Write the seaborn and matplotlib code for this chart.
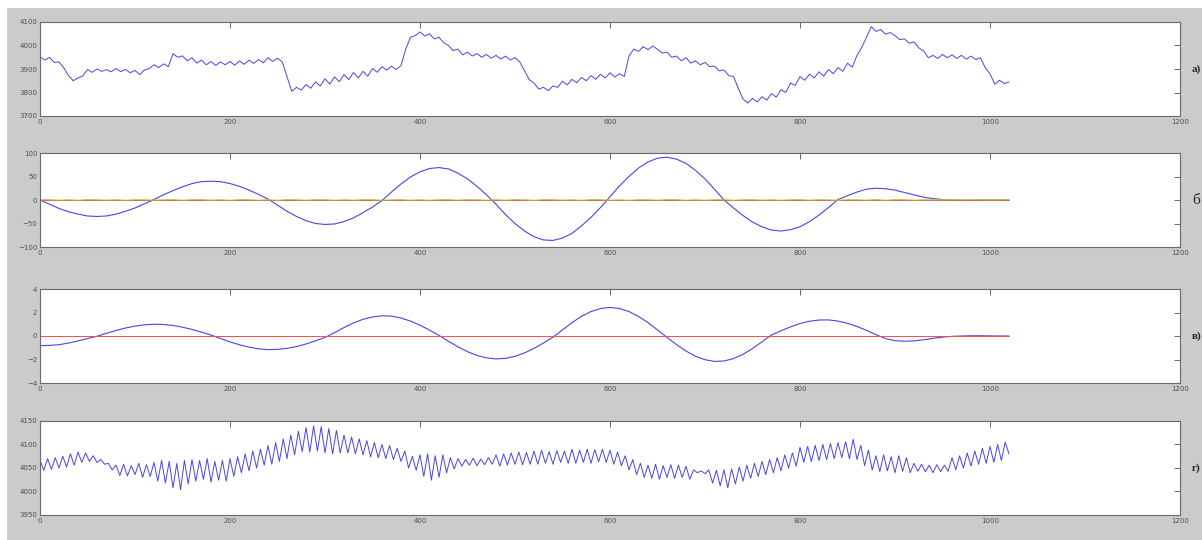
import numpy as np
import matplotlib
matplotlib.use("Agg")
import matplotlib.pyplot as plt
import seaborn as sns
from matplotlib.patches import Rectangle

sns.set_style("white")

# панель а) - исходный сигнал, шаг 5 отсчётов
step_a = 5
sig_a = [3952, 3938, 3949, 3928, 3930, 3905, 3872, 3850, 3862, 3870,
         3898, 3886, 3900, 3890, 3897, 3888, 3902, 3889, 3898, 3884,
         3894, 3876, 3896, 3902, 3918, 3906, 3922, 3910, 3965, 3950,
         3956, 3935, 3948, 3925, 3938, 3918, 3932, 3915, 3930, 3918,
         3932, 3916, 3934, 3920, 3938, 3924, 3940, 3926, 3948, 3932,
         3946, 3930, 3868, 3805, 3822, 3810, 3834, 3818, 3845, 3828,
         3858, 3836, 3866, 3846, 3876, 3855, 3885, 3862, 3890, 3870,
         3902, 3886, 3910, 3895, 3912, 3898, 3915, 3985, 4035, 4042,
         4058, 4040, 4050, 4028, 4035, 4012, 4000, 3978, 3985, 3960,
         3972, 3955, 3966, 3950, 3962, 3946, 3958, 3942, 3955, 3938,
         3948, 3930, 3892, 3855, 3840, 3815, 3822, 3808, 3828, 3822,
         3848, 3832, 3856, 3842, 3864, 3850, 3872, 3856, 3878, 3862,
         3884, 3866, 3880, 3868, 3955, 3985, 3975, 3995, 3982, 3998,
         3984, 3968, 3972, 3950, 3955, 3935, 3948, 3925, 3935, 3918,
         3928, 3910, 3912, 3892, 3896, 3872, 3868, 3818, 3772, 3755,
         3775, 3760, 3782, 3768, 3795, 3780, 3812, 3800, 3840, 3830,
         3868, 3852, 3878, 3862, 3888, 3870, 3898, 3880, 3906, 3890,
         3925, 3908, 3958, 3992, 4035, 4080, 4060, 4068, 4048, 4055,
         4042, 4025, 4028, 4010, 4015, 3990, 3978, 3948, 3958, 3945,
         3962, 3948, 3960, 3945, 3958, 3942, 3955, 3940, 3948, 3905,
         3880, 3835, 3852, 3838, 3845]

# панель г), шаг 4 отсчёта
step_d = 4
sig_d = [4067, 4045, 4070, 4047, 4072, 4050, 4075, 4052, 4080, 4056,
         4084, 4062, 4082, 4064, 4076, 4062, 4068, 4058, 4060, 4046,
         4056, 4034, 4058, 4033, 4055, 4036, 4060, 4030, 4057, 4032,
         4062, 4022, 4066, 4018, 4064, 4008, 4060, 4004, 4066, 4016,
         4068, 4022, 4066, 4026, 4070, 4020, 4064, 4024, 4066, 4022,
         4070, 4032, 4074, 4040, 4080, 4044, 4086, 4050, 4090, 4056,
         4098, 4058, 4104, 4064, 4112, 4070, 4120, 4078, 4128, 4085,
         4136, 4084, 4140, 4086, 4138, 4082, 4134, 4080, 4130, 4082,
         4120, 4082, 4116, 4080, 4112, 4078, 4108, 4074, 4104, 4072,
         4100, 4070, 4098, 4068, 4092, 4064, 4086, 4050, 4075, 4045,
         4078, 4032, 4080, 4024, 4076, 4030, 4078, 4040, 4072, 4048,
         4070, 4054, 4068, 4056, 4071, 4055, 4069, 4057, 4072, 4058,
         4078, 4054, 4080, 4056, 4082, 4058, 4084, 4057, 4083, 4058,
         4086, 4058, 4088, 4060, 4085, 4058, 4087, 4062, 4086, 4060,
         4090, 4060, 4088, 4062, 4090, 4060, 4089, 4063, 4090, 4062,
         4088, 4058, 4084, 4055, 4076, 4046, 4068, 4036, 4060, 4030,
         4056, 4028, 4058, 4026, 4055, 4030, 4057, 4028, 4056, 4030,
         4054, 4026, 4046, 4040, 4044, 4038, 4046, 4018, 4045, 4012,
         4046, 4008, 4048, 4016, 4052, 4022, 4056, 4028, 4060, 4032,
         4064, 4036, 4068, 4040, 4072, 4044, 4078, 4050, 4082, 4054,
         4094, 4062, 4096, 4064, 4098, 4066, 4100, 4068, 4102, 4070,
         4104, 4072, 4106, 4070, 4111, 4068, 4098, 4055, 4088, 4046,
         4076, 4042, 4078, 4044, 4074, 4040, 4076, 4043, 4072, 4040,
         4060, 4043, 4058, 4042, 4056, 4040, 4057, 4042, 4056, 4043,
         4072, 4046, 4076, 4050, 4082, 4054, 4086, 4058, 4092, 4060,
         4096, 4062, 4100, 4066, 4105, 4080]

# панель б), шаг 10
step_bc = 10
imf_b = [0, -9, -18, -25, -30, -34, -35, -34, -30, -24, -17, -8,
         1, 11, 20, 28, 35, 39, 40, 39, 35, 29, 21, 12, 2,
         -11, -24, -35, -44, -50, -52, -51, -46, -38, -27, -15, -1,
         17, 34, 49, 60, 67, 69, 66, 57, 45, 29, 11,
         -9, -31, -50, -66, -78, -85, -86, -81, -71, -55, -37, -16,
         7, 30, 50, 68, 81, 89, 91, 87, 78, 63, 45, 23, 0,
         -17, -33, -47, -57, -64, -66, -63, -57, -46, -32, -16,
         1, 9, 17, 23, 25, 24, 21, 16, 11, 6, 3, 1, 0, -1, -1, 0, 0, 0, 0]
red_b = [0] * 103
green_b = [0.6, 0.8, -0.4, 0.7, -0.5, 0.9, 0.6, -0.3, 0.8, -0.6, 0.7, 0.5,
           -0.4, 0.6, 0.8, -0.5, 0.7, 0.9, -0.3, 0.6, -0.5, 0.8, 0.7, -0.4,
           0.6, -0.6, 0.9, 0.5, -0.4, 0.7, 0.8, -0.5, 0.6, -0.3, 0.9, 0.7,
           -0.6, 0.5, 0.8, -0.4, 0.7, -0.5, 0.6, 0.9, -0.3, 0.8, 0.6, -0.5,
           0.7, -0.4, 0.9, 0.5, -0.6, 0.8, 0.7, -0.3, 0.6, -0.5, 0.9, 0.8,
           -0.4, 0.6, -0.6, 0.7, 0.5, -0.3, 0.9, 0.8, -0.5, 0.6, -0.4, 0.7,
           0.9, -0.6, 0.5, 0.8, -0.3, 0.7, -0.5, 0.6, 0.9, -0.4, 0.8, 0.5,
           -0.6, 0.7, 0.6, -0.3, 0.9, -0.5, 0.8, 0.7, -0.4, 0.6, 0.5, 0.8,
           0.7, 0.6, 0.8, 0.7, 0.6, 0.7, 0.8]

# панель в)
imf_c = [-0.82, -0.80, -0.74, -0.60, -0.42, -0.22, -0.02,
         0.23, 0.47, 0.68, 0.84, 0.95, 1.0, 0.98, 0.90, 0.75, 0.56, 0.33, 0.08,
         -0.21, -0.50, -0.75, -0.95, -1.09, -1.16, -1.14, -1.05, -0.90, -0.68, -0.41, -0.12,
         0.28, 0.72, 1.11, 1.42, 1.62, 1.72, 1.69, 1.53, 1.27, 0.92, 0.50, 0.05,
         -0.45, -0.92, -1.33, -1.66, -1.86, -1.95, -1.90, -1.73, -1.44, -1.05, -0.60, -0.10,
         0.52, 1.14, 1.67, 2.08, 2.34, 2.43, 2.34, 2.08, 1.67, 1.14, 0.52,
         -0.12, -0.73, -1.28, -1.72, -2.02, -2.16, -2.13, -1.92, -1.56, -1.07, -0.49,
         0.08, 0.44, 0.78, 1.06, 1.26, 1.36, 1.37, 1.27, 1.08, 0.81, 0.48, 0.11,
         -0.22, -0.40, -0.45, -0.42, -0.32, -0.20, -0.10, -0.03,
         0.0, 0.02, 0.02, 0.01, 0.0, 0.0]
red_c = [0] * 103

x_a = np.arange(len(sig_a)) * step_a
x_d = np.arange(len(sig_d)) * step_d
x_bc = np.arange(len(imf_b)) * step_bc

blue = "#4646e6"
red = "#f05050"
green = "#a8c83c"

fig = plt.figure(figsize=(12.02, 5.4), dpi=100, facecolor="white")
fig.patches.append(Rectangle((7 / 1202, 0), 1, 1 - 8 / 540, transform=fig.transFigure,
                             facecolor="#cbcbcb", edgecolor="none", zorder=-10))

W, H = 1202, 540
tops = [22, 153, 289, 421]
hgt = 94
ylims = [(3700, 4100), (-100, 100), (-4, 4), (3950, 4150)]
yticks = [np.arange(3700, 4101, 100), np.arange(-100, 101, 50),
          np.arange(-4, 5, 2), np.arange(3950, 4151, 50)]
labels = ["а)", "б", "в)", "г)"]
label_size = [8, 11, 8, 8]

axes = []
for i in range(4):
    ax = fig.add_axes([40 / W, 1 - (tops[i] + hgt) / H, 1140 / W, hgt / H])
    axes.append(ax)

sns.lineplot(x=x_a, y=sig_a, ax=axes[0], color=blue, linewidth=0.7, estimator=None)
sns.lineplot(x=x_bc, y=imf_b, ax=axes[1], color=blue, linewidth=0.8, estimator=None)
sns.lineplot(x=x_bc, y=red_b, ax=axes[1], color=red, linewidth=0.7, estimator=None)
sns.lineplot(x=x_bc, y=green_b, ax=axes[1], color=green, linewidth=0.7, estimator=None)
sns.lineplot(x=x_bc, y=imf_c, ax=axes[2], color=blue, linewidth=0.8, estimator=None)
sns.lineplot(x=x_bc, y=red_c, ax=axes[2], color=red, linewidth=0.7, estimator=None)
sns.lineplot(x=x_d, y=sig_d, ax=axes[3], color=blue, linewidth=0.7, estimator=None)

for i, ax in enumerate(axes):
    ax.set_facecolor("white")
    ax.set_xlim(0, 1200)
    ax.set_ylim(*ylims[i])
    ax.set_xticks(np.arange(0, 1201, 200))
    ax.set_yticks(yticks[i])
    ax.tick_params(direction="in", length=4, width=0.6, top=True, right=True,
                   labelsize=5, colors="#505050", pad=2)
    for s in ax.spines.values():
        s.set_color("#6a6a6a")
        s.set_linewidth(0.8)
    ax.set_xlabel("")
    ax.set_ylabel("")
    ax.text(1192 / W, 1 - (tops[i] + hgt / 2) / H, labels[i], transform=fig.transFigure,
            fontsize=label_size[i], fontweight="bold" if i != 1 else "normal",
            family=["Liberation Serif", "DejaVu Serif"], va="center", ha="left")

fig.savefig("out.png", dpi=100, facecolor=fig.get_facecolor())
